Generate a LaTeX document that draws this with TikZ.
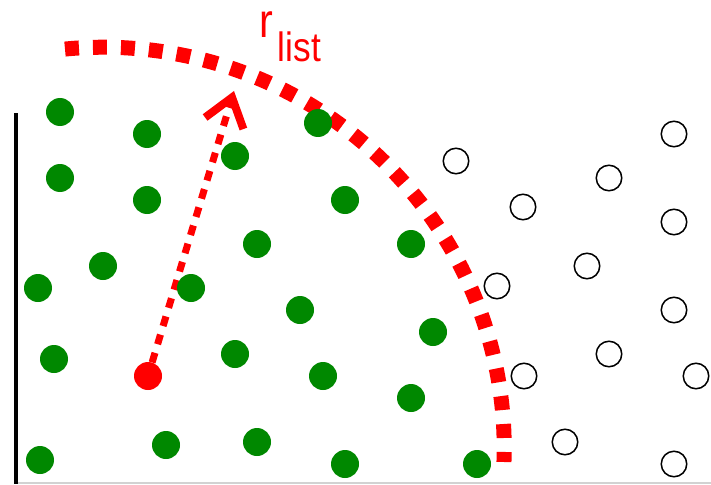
\documentclass[tikz,border=0pt]{standalone}
\usepackage{graphicx}
\usepackage{fontspec}
\setmainfont{Liberation Sans}
\usetikzlibrary{arrows.meta}
\definecolor{dotgreen}{RGB}{0,136,0}

\begin{document}
\begin{tikzpicture}[x=1pt,y=-1pt,
  inside/.style={circle,fill=dotgreen,minimum size=28pt,inner sep=0pt},
  outside/.style={circle,draw=black,line width=1.5pt,minimum size=25.5pt,inner sep=0pt},
  query/.style={circle,fill=red,minimum size=28pt,inner sep=0pt}]
\useasboundingbox (0,0) rectangle (711,484);
% axis lines
\draw[gray!35,line width=1.5pt] (18,483) -- (711,483);
\draw[line width=4pt] (16,113) -- (16,484);
% search radius
\coordinate (ctr) at (103.4,448);
\draw[red,line width=15pt,dash pattern=on 14pt off 14pt] (ctr) ++(-95.5:400.8) arc[start angle=-95.5,end angle=2,radius=400.8];
\node[red,anchor=base west,inner sep=0pt] (rlabel) at (259,38) {\scalebox{0.86}[1]{\fontsize{48}{48}\selectfont r}\hspace{5pt}\raisebox{-24pt}{\scalebox{0.86}[1]{\fontsize{41}{41}\selectfont list}}};
% query point and radius arrow
\node[query] (q) at (148,376) {};
\coordinate (tip) at (234,91);
\draw[red,line width=7pt,dash pattern=on 10pt off 9pt,-{Straight Barb[length=27pt,width=40pt,line width=8pt]}] (q) -- (tip);
% neighbours inside the radius
\foreach \p [count=\i] in {(60,112),(147,134),(235,156),(318,123),(60,178),(147,200),(345,200),(257,244),(411,244),(103,266),(38,288),(191,288),(300,310),(433,332),(54,359),(235,354),(323,376),(411,398),(40,460),(166,445),(257,442),(345,464),(477,464)}
  \node[inside] (g\i) at \p {};
% points outside the radius
\foreach \p [count=\i] in {(456,161),(674,134),(609,178),(523,207),(674,222),(587,266),(497,286),(674,310),(609,354),(524,376),(696,376),(565,442),(674,464)}
  \node[outside] (o\i) at \p {};
\end{tikzpicture}
\end{document}
